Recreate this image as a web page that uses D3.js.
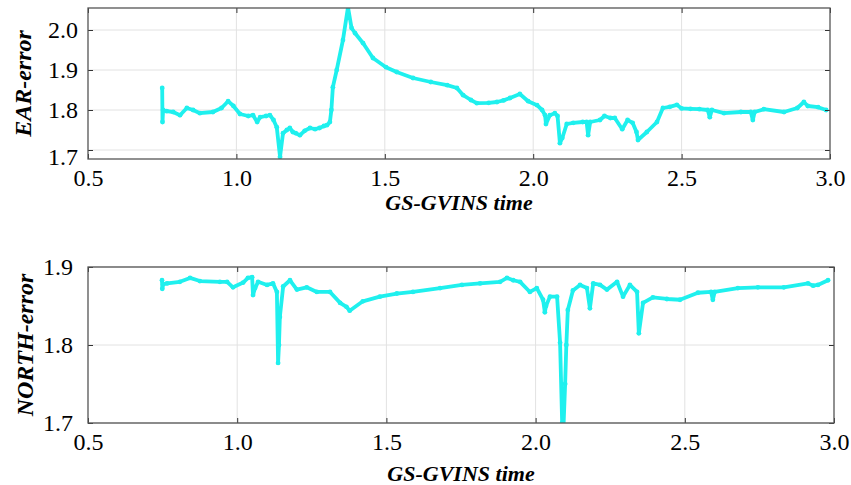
<!DOCTYPE html>
<html>
<head>
<meta charset="utf-8">
<script src="https://cdn.jsdelivr.net/npm/d3@7/dist/d3.min.js"></script>
<style>
  html, body { margin: 0; padding: 0; background: #fff; }
  svg { display: block; }
</style>
</head>
<body>
<svg id="chart" width="851" height="485"></svg>
<script>
// East error over GS-GVINS time
const earTime = [0.750, 0.751, 0.753, 0.765, 0.787, 0.810, 0.833, 0.854, 0.877, 0.921, 0.950, 0.972, 0.990, 1.012,
  1.040, 1.056, 1.070, 1.080, 1.100, 1.113, 1.125, 1.136, 1.147, 1.157, 1.170, 1.180, 1.190, 1.200, 1.214,
  1.230, 1.248, 1.265, 1.280, 1.295, 1.305, 1.315, 1.320, 1.325, 1.338, 1.359, 1.376, 1.388, 1.400, 1.427,
  1.460, 1.504, 1.540, 1.595, 1.655, 1.710, 1.743, 1.764, 1.790, 1.810, 1.850, 1.878, 1.900, 1.922, 1.955,
  1.983, 2.013, 2.030, 2.040, 2.043, 2.056, 2.073, 2.082, 2.090, 2.098, 2.113, 2.135, 2.167, 2.180, 2.185,
  2.192, 2.225, 2.240, 2.260, 2.275, 2.300, 2.318, 2.335, 2.348, 2.353, 2.383, 2.417, 2.437, 2.460, 2.484,
  2.500, 2.530, 2.560, 2.588, 2.595, 2.602, 2.643, 2.700, 2.733, 2.740, 2.746, 2.777, 2.845, 2.890, 2.912,
  2.925, 2.960, 2.987];
const earError = [1.855, 1.770, 1.800, 1.797, 1.795, 1.787, 1.805, 1.800, 1.792, 1.795, 1.805, 1.822, 1.810, 1.790,
  1.785, 1.787, 1.770, 1.782, 1.785, 1.787, 1.775, 1.757, 1.683, 1.742, 1.750, 1.755, 1.745, 1.742, 1.737,
  1.748, 1.755, 1.752, 1.755, 1.760, 1.762, 1.770, 1.800, 1.857, 1.900, 1.975, 2.057, 2.005, 1.992, 1.967,
  1.930, 1.907, 1.895, 1.880, 1.870, 1.862, 1.855, 1.837, 1.825, 1.817, 1.818, 1.820, 1.824, 1.830, 1.840,
  1.822, 1.812, 1.800, 1.787, 1.765, 1.787, 1.792, 1.785, 1.717, 1.730, 1.765, 1.768, 1.770, 1.770, 1.737,
  1.770, 1.775, 1.785, 1.780, 1.780, 1.752, 1.775, 1.768, 1.745, 1.725, 1.745, 1.770, 1.805, 1.808, 1.813,
  1.804, 1.803, 1.802, 1.800, 1.782, 1.800, 1.792, 1.795, 1.795, 1.775, 1.795, 1.802, 1.795, 1.805, 1.820,
  1.810, 1.807, 1.800];

// North error over GS-GVINS time
const northTime = [0.748, 0.749, 0.752, 0.765, 0.808, 0.842, 0.875, 0.942, 0.966, 0.986, 1.020, 1.036, 1.050,
  1.053, 1.060, 1.070, 1.100, 1.120, 1.133, 1.137, 1.140, 1.143, 1.154, 1.177, 1.200, 1.233, 1.267, 1.311,
  1.345, 1.366, 1.377, 1.421, 1.478, 1.535, 1.589, 1.680, 1.753, 1.814, 1.881, 1.904, 1.925, 1.948, 1.981,
  2.004, 2.025, 2.031, 2.035, 2.048, 2.072, 2.082, 2.089, 2.092, 2.099, 2.103, 2.108, 2.125, 2.149, 2.172,
  2.182, 2.193, 2.216, 2.239, 2.273, 2.293, 2.316, 2.340, 2.346, 2.360, 2.393, 2.440, 2.484, 2.544, 2.588,
  2.594, 2.600, 2.678, 2.745, 2.832, 2.913, 2.930, 2.946, 2.980];
const northError = [1.883, 1.872, 1.878, 1.879, 1.881, 1.886, 1.882, 1.881, 1.881, 1.874, 1.880, 1.886, 1.887,
  1.864, 1.873, 1.881, 1.877, 1.879, 1.868, 1.777, 1.800, 1.836, 1.875, 1.883, 1.871, 1.874, 1.868, 1.868,
  1.854, 1.849, 1.844, 1.856, 1.862, 1.866, 1.868, 1.873, 1.877, 1.879, 1.881, 1.886, 1.883, 1.881, 1.868,
  1.873, 1.858, 1.842, 1.850, 1.862, 1.862, 1.803, 1.700, 1.680, 1.750, 1.800, 1.845, 1.870, 1.877, 1.873,
  1.847, 1.879, 1.877, 1.871, 1.881, 1.862, 1.877, 1.868, 1.815, 1.854, 1.861, 1.859, 1.858, 1.867, 1.868,
  1.858, 1.868, 1.873, 1.874, 1.874, 1.879, 1.876, 1.877, 1.883];

const xTicks = [0.5, 1.0, 1.5, 2.0, 2.5, 3.0];
const earTicks = [1.7, 1.8, 1.9, 2.0];
const northTicks = [1.7, 1.8, 1.9];

const serif = "'Liberation Serif', 'Times New Roman', Times, 'DejaVu Serif', serif";
const svg = d3.select("#chart");
const lineColor = "#1ff0ee";

function panel(cfg) {
  const x = d3.scaleLinear().domain([0.5, 3.0]).range([cfg.left, cfg.right]);
  const y = d3.scaleLinear().domain(cfg.yDomain).range([cfg.bottom, cfg.top]);
  const g = svg.append("g");

  // grid
  g.append("g").selectAll("line").data(xTicks.slice(1, -1)).join("line")
    .attr("x1", d => x(d)).attr("x2", d => x(d))
    .attr("y1", cfg.top).attr("y2", cfg.bottom)
    .attr("stroke", "#e2e2e2").attr("stroke-width", 1);
  g.append("g").selectAll("line").data(cfg.yTicks).join("line")
    .attr("x1", cfg.left).attr("x2", cfg.right)
    .attr("y1", d => y(d)).attr("y2", d => y(d))
    .attr("stroke", "#e2e2e2").attr("stroke-width", 1);

  // data
  const clipId = "clip-" + cfg.name;
  svg.append("clipPath").attr("id", clipId).append("rect")
    .attr("x", cfg.left).attr("y", cfg.top)
    .attr("width", cfg.right - cfg.left).attr("height", cfg.bottom - cfg.top);
  const pts = cfg.t.map((t, i) => [t, cfg.v[i]]);
  const dg = g.append("g").attr("clip-path", `url(#${clipId})`);
  dg.append("path").datum(pts)
    .attr("fill", "none").attr("stroke", lineColor)
    .attr("stroke-width", 3.8).attr("stroke-linejoin", "round")
    .attr("d", d3.line().x(d => x(d[0])).y(d => y(d[1])));
  dg.selectAll("circle").data(pts).join("circle")
    .attr("cx", d => x(d[0])).attr("cy", d => y(d[1])).attr("r", 2.4)
    .attr("fill", lineColor);

  // axes (inward ticks on all sides)
  const ax = g.append("g").attr("transform", `translate(0,${cfg.bottom})`)
    .call(d3.axisBottom(x).tickValues(xTicks).tickFormat(d3.format(".1f")).tickSizeInner(-5).tickSizeOuter(0).tickPadding(10));
  g.append("g").attr("transform", `translate(0,${cfg.top})`)
    .call(d3.axisTop(x).tickValues(xTicks).tickFormat("").tickSizeInner(-5).tickSizeOuter(0));
  const ay = g.append("g").attr("transform", `translate(${cfg.left},0)`)
    .call(d3.axisLeft(y).tickValues(cfg.yTicks).tickFormat(d3.format(".1f")).tickSizeInner(-5).tickSizeOuter(0).tickPadding(cfg.yPad));
  g.append("g").attr("transform", `translate(${cfg.right},0)`)
    .call(d3.axisRight(y).tickValues(cfg.yTicks).tickFormat("").tickSizeInner(-5).tickSizeOuter(0));
  g.selectAll(".domain").remove();
  g.selectAll(".tick line").attr("stroke", "#333").attr("stroke-width", 1);
  g.selectAll(".tick text")
    .attr("font-family", null).attr("font-size", null)
    .style("font-family", serif).style("font-size", "24px").style("fill", "#000");
  ax.selectAll(".tick text").attr("dy", "0.71em");
  if (cfg.lowLabelShift) {
    ay.selectAll(".tick text").filter(d => d === cfg.yTicks[0]).attr("dy", (0.32 * 24 + cfg.lowLabelShift) + "px");
  }

  // frame
  g.append("rect").attr("x", cfg.left).attr("y", cfg.top)
    .attr("width", cfg.right - cfg.left).attr("height", cfg.bottom - cfg.top)
    .attr("fill", "none").attr("stroke", "#555").attr("stroke-width", 1.3);

  // titles
  const titleStyle = sel => sel.style("font-family", serif).style("font-size", "22px")
    .style("font-weight", "bold").style("font-style", "italic").style("fill", "#000");
  g.append("text").call(titleStyle)
    .attr("x", (cfg.left + cfg.right) / 2).attr("y", cfg.xTitleY)
    .attr("text-anchor", "middle").text("GS-GVINS time");
  g.append("text").call(titleStyle)
    .style("font-size", "24px")
    .attr("transform", `translate(${cfg.yTitleX},${(cfg.top + cfg.bottom) / 2}) rotate(-90)`)
    .attr("text-anchor", "middle").text(cfg.yTitle);
}

panel({
  name: "ear", left: 88, right: 830, top: 8, bottom: 159,
  yDomain: [1.6775, 2.055], yTicks: earTicks, yPad: 10, lowLabelShift: 7,
  t: earTime, v: earError, yTitle: "EAR-error", yTitleX: 31, xTitleY: 210
});
panel({
  name: "north", left: 88, right: 834, top: 267, bottom: 423,
  yDomain: [1.7, 1.9], yTicks: northTicks, yPad: 15,
  t: northTime, v: northError, yTitle: "NORTH-error", yTitleX: 33, xTitleY: 481
});
</script>
</body>
</html>
